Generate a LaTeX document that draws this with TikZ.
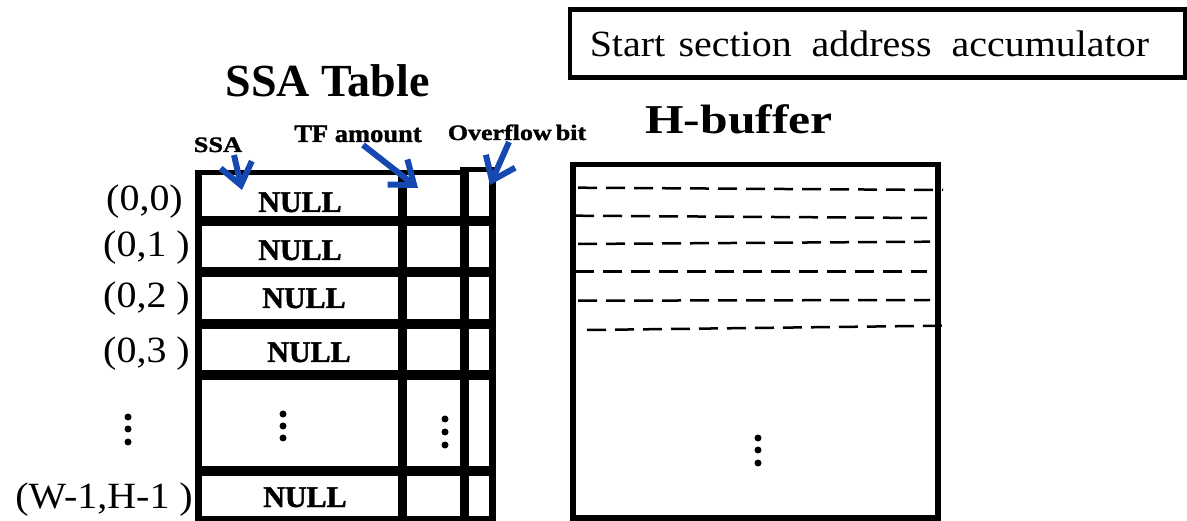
\documentclass[tikz,border=0pt]{standalone}
\usepackage{graphicx}
\usepackage{fontspec}
\setmainfont{Liberation Serif}
\newfontfamily\heavyfont[FakeBold=1.4]{Liberation Serif Bold}
\usetikzlibrary{arrows.meta,calc}
\definecolor{arrowblue}{RGB}{22,72,178}

% font size helper and horizontal stretch helper
\newcommand\fsz[1]{\fontsize{#1}{#1}\selectfont}
\newcommand\wide[2]{\scalebox{#1}[1]{#2}}

\begin{document}
\begin{tikzpicture}[x=1pt,y=-1pt,
  txt/.style={inner sep=0pt, anchor=base},
  title/.style={txt, font=\bfseries\fsz{46}},
  colhead/.style={txt, font=\heavyfont\fsz{22}},
  cellnull/.style={txt, font=\heavyfont\fsz{30}},
  rowlabel/.style={inner sep=0pt, anchor=base east, font=\fsz{37}},
  tline/.style={line width=#1},
  pointer/.style={draw=arrowblue, line width=6pt,
    -{Straight Barb[length=21pt,width=32pt]}},
  dashrow/.style={line width=2.5pt, dash pattern=on 19pt off 9pt},
  dot/.style={fill=black}]

\useasboundingbox (0,0) rectangle (1187,521);

% accumulator box
\node[draw, line width=4.5pt, anchor=west, inner xsep=20pt, inner ysep=0pt,
  text width=575pt, minimum height=68pt, align=left, font=\fsz{37}]
  (acc) at (567.5,43.5) {\wide{1.08}{Start section\, address\, accumulator}};

% titles
\node[title] (ssatitle) at (327.5,97) {SSA Table};
\node[title, font=\bfseries\fsz{41}] (hbuftitle) at (739,134) {\wide{1.21}{H-buffer}};

% column headers
\node[colhead] (ssa) at (218,152) {\wide{1.2}{SSA}};
\node[colhead, font=\heavyfont\fsz{25}] (tf) at (358,142) {\wide{1.06}{TF amount}};
\node[colhead] (ovf) at (517,140) {\wide{1.18}{Overflow\hspace{-2pt} bit}};

% SSA table grid
\draw[tline=7pt] (198.5,170) -- (198.5,521);
\draw[tline=9pt] (402.5,170) -- (402.5,521);
\draw[tline=9pt] (464.5,167) -- (464.5,521);
\draw[tline=7pt] (492.5,167) -- (492.5,521);
\draw[tline=5pt] (195,172.5) -- (469,172.5);
\draw[tline=5pt] (460,169.5) -- (496,169.5);
\foreach \yy in {221,272,324,375,471}
  \draw[tline=10pt] (195,\yy) -- (496,\yy);
\draw[tline=5pt] (195,518.5) -- (496,518.5);

% table entries
\node[cellnull] (n0) at (300,212) {NULL};
\node[cellnull] (n1) at (300,260) {NULL};
\node[cellnull] (n2) at (304,308) {NULL};
\node[cellnull] (n3) at (309,362) {NULL};
\node[cellnull] (nl) at (305,507) {NULL};
\foreach \yy in {414,426,438} \fill[dot] (283,\yy) circle (3.5);
\foreach \yy in {419,432,445} \fill[dot] (445,\yy) circle (3.5);

% row indices
\node[rowlabel] (r0) at (183,211) {\wide{1.08}{(0,0)}};
\node[rowlabel] (r1) at (190,257) {\wide{1.08}{(0,1 )}};
\node[rowlabel] (r2) at (190,308) {\wide{1.08}{(0,2 )}};
\node[rowlabel] (r3) at (190,363) {\wide{1.08}{(0,3 )}};
\node[rowlabel] (rl) at (193,508) {\wide{1.08}{(W-1,H-1 )}};
\foreach \yy in {417,429,442} \fill[dot] (128,\yy) circle (3.5);

% pointers from headers into the first row
\coordinate (ssaTip) at (242,190);
\coordinate (tfTip) at (418,188);
\coordinate (ovfTip) at (490,185);
\draw[pointer] ($(ssa.base)+(16,3)$) -- (ssaTip);
\draw[pointer] ($(tf.base)+(5,3)$) -- (tfTip);
\draw[pointer] ($(ovf.base)+(-8,2)$) -- (ovfTip);

% H-buffer
\draw[line width=5.5pt] (573,164.5) rectangle (938,518);
\draw[dashrow] (578,187.7) -- (943,190);
\draw[dashrow] (575,215.7) -- (927,218);
\draw[dashrow] (578,244) -- (930,241.7);
\draw[dashrow] (575,271.7) -- (927,271.7);
\draw[dashrow] (578,300.7) -- (930,300);
\draw[dashrow] (587,330) -- (942,325.7);
\foreach \yy in {438,450,463} \fill[dot] (758,\yy) circle (3.5);

\end{tikzpicture}
\end{document}
